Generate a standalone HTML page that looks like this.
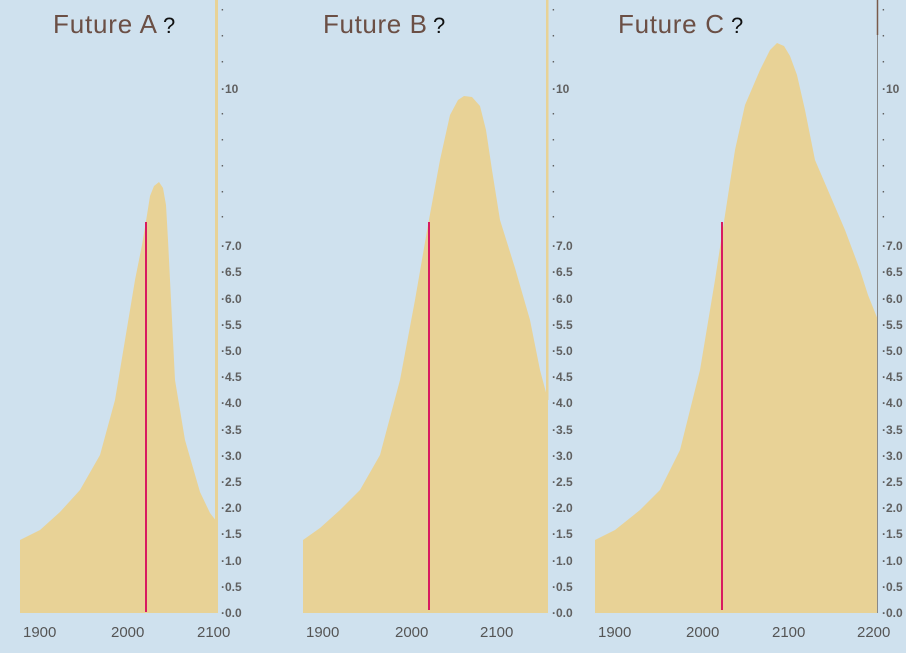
<!DOCTYPE html>
<html><head><style>
body{margin:0;background:#cfe1ee;width:906px;height:648px;overflow:hidden;font-family:"Liberation Sans",sans-serif}
svg text{font-family:"Liberation Sans",sans-serif}
</style></head><body>
<svg width="906" height="648" viewBox="0 0 906 648" xmlns="http://www.w3.org/2000/svg">
<rect width="906" height="648" fill="#cfe1ee"/>
<g fill="#e8d296">
<polygon points="20,613 20,540 40,530 60,512 80,490 100,455 115,400 125,340 135,280 142,245 147,215 150,196 154,186 159,182 163,188 166,205 168,240 171,300 175,380 185,440 200,492 210,513 217,522 217,613"/>
<rect x="215" y="0" width="3" height="613"/>
<polygon points="303,613 303,540 320,528 340,510 360,490 380,455 400,380 415,300 428,225 440,160 450,115 458,100 464,96 472,97 480,106 486,130 492,170 500,220 515,268 530,320 540,370 548,400 548,613"/>
<rect x="546" y="0" width="2.5" height="400"/>
<polygon points="595,613 595,540 615,530 640,510 660,490 680,450 700,370 715,280 725,215 735,150 745,105 760,70 770,50 777,43 784,46 790,56 797,75 805,110 815,160 830,195 845,230 860,270 868,295 872,305 876,315 878,320 878,613"/>
</g>
<line x1="877.5" y1="0" x2="877.5" y2="613" stroke="#888" stroke-width="1"/>
<line x1="877.5" y1="0" x2="877.5" y2="35" stroke="#7a5a4a" stroke-width="1.5"/>
<g stroke="#d81b60" stroke-width="2">
<line x1="146" y1="222" x2="146" y2="612"/>
<line x1="429" y1="222" x2="429" y2="610"/>
<line x1="722" y1="222" x2="722" y2="610"/>
</g>
<g font-size="26" fill="#6b4f45">
<text x="53" y="33" textLength="104">Future A</text><text x="163" y="33" fill="#111" font-size="22">?</text>
<text x="323" y="33" textLength="104">Future B</text><text x="433" y="33" fill="#111" font-size="22">?</text>
<text x="618" y="33" textLength="106">Future C</text><text x="731" y="33" fill="#111" font-size="22">?</text>
</g>
<g font-size="15" fill="#555">
<text x="23" y="637">1900</text><text x="111" y="637">2000</text><text x="197" y="637">2100</text>
<text x="306" y="637">1900</text><text x="395" y="637">2000</text><text x="480" y="637">2100</text>
<text x="598" y="637">1900</text><text x="686" y="637">2000</text><text x="772" y="637">2100</text><text x="857" y="637">2200</text>
</g>
<g font-size="12" font-weight="bold" fill="#606060">
<g id="ax">
<text x="221" y="617">·0.0</text><text x="221" y="591">·0.5</text><text x="221" y="565">·1.0</text><text x="221" y="538">·1.5</text>
<text x="221" y="512">·2.0</text><text x="221" y="486">·2.5</text><text x="221" y="460">·3.0</text><text x="221" y="434">·3.5</text>
<text x="221" y="407">·4.0</text><text x="221" y="381">·4.5</text><text x="221" y="355">·5.0</text><text x="221" y="329">·5.5</text>
<text x="221" y="303">·6.0</text><text x="221" y="276">·6.5</text><text x="221" y="250">·7.0</text>
<text x="221" y="93">·10</text>
<g font-size="10"><text x="221" y="220">·</text><text x="221" y="195">·</text><text x="221" y="169">·</text><text x="221" y="143">·</text><text x="221" y="117">·</text><text x="221" y="65">·</text><text x="221" y="39">·</text><text x="221" y="13">·</text></g>
</g>
<use href="#ax" x="331"/>
<use href="#ax" x="661"/>
</g>
</svg>
</body></html>
